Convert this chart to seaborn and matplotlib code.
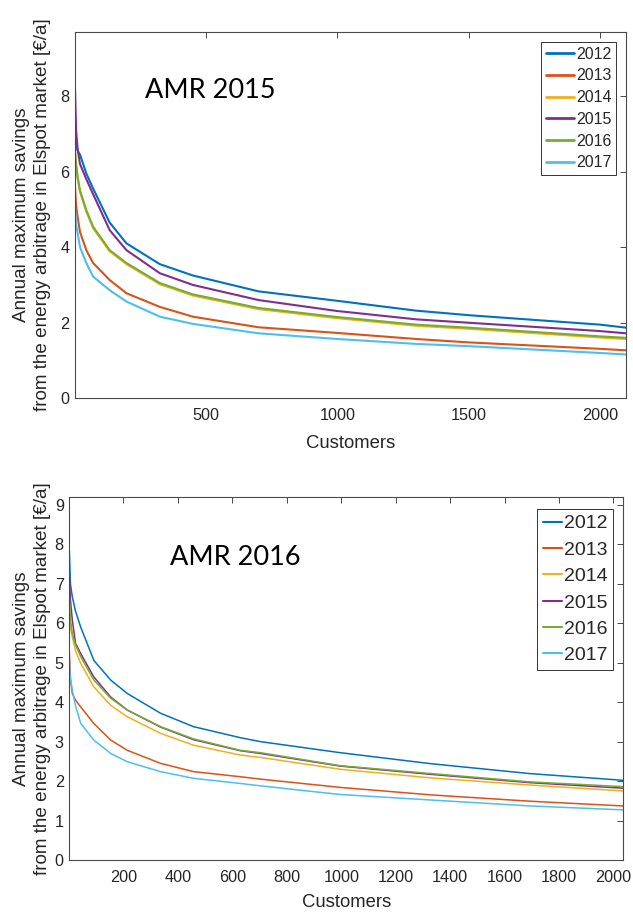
import matplotlib
matplotlib.use("Agg")
import matplotlib.pyplot as plt
import numpy as np
import pandas as pd
import seaborn as sns

# ---- AMR 2015 panel: savings per customer rank, one curve per price year ----
amr15_customers = [1, 5, 11, 20, 44, 70, 133, 197, 324, 450, 700, 1000, 1300, 1500, 2000, 2100]
amr15_2012 = [6.85, 6.70, 6.55, 6.45, 5.95, 5.55, 4.65, 4.10, 3.55, 3.25, 2.83, 2.58, 2.32, 2.20, 1.95, 1.87]
amr15_2013 = [5.60, 5.10, 4.80, 4.40, 3.92, 3.58, 3.13, 2.78, 2.42, 2.16, 1.88, 1.73, 1.57, 1.48, 1.31, 1.27]
amr15_2014 = [6.50, 6.15, 5.82, 5.46, 4.94, 4.50, 3.89, 3.55, 3.02, 2.72, 2.36, 2.12, 1.92, 1.84, 1.61, 1.57]
amr15_2015 = [8.20, 7.10, 6.60, 6.20, 5.80, 5.40, 4.45, 3.92, 3.31, 3.00, 2.60, 2.31, 2.09, 2.00, 1.78, 1.72]
amr15_2016 = [6.57, 6.20, 5.86, 5.50, 4.98, 4.54, 3.92, 3.58, 3.05, 2.75, 2.39, 2.15, 1.95, 1.87, 1.64, 1.60]
amr15_2017 = [5.03, 4.60, 4.37, 4.00, 3.58, 3.22, 2.86, 2.56, 2.16, 1.97, 1.72, 1.57, 1.44, 1.38, 1.20, 1.16]

# ---- AMR 2016 panel ----
amr16_customers = [1, 5, 12, 24, 43, 91, 153, 214, 336, 457, 629, 703, 996, 1330, 1693, 2035]
amr16_2012 = [7.85, 7.00, 6.67, 6.30, 5.90, 5.06, 4.56, 4.22, 3.72, 3.38, 3.10, 3.00, 2.72, 2.44, 2.19, 2.02]
amr16_2013 = [5.27, 4.60, 4.22, 4.05, 3.88, 3.46, 3.04, 2.78, 2.45, 2.24, 2.11, 2.05, 1.84, 1.65, 1.49, 1.37]
amr16_2014 = [6.29, 5.90, 5.65, 5.30, 4.98, 4.39, 3.92, 3.63, 3.21, 2.91, 2.66, 2.60, 2.30, 2.08, 1.90, 1.75]
amr16_2015 = [7.26, 6.60, 6.08, 5.49, 5.23, 4.64, 4.13, 3.80, 3.37, 3.05, 2.77, 2.70, 2.38, 2.17, 1.96, 1.82]
amr16_2016 = [6.67, 6.10, 5.74, 5.45, 5.15, 4.56, 4.10, 3.80, 3.38, 3.07, 2.78, 2.72, 2.39, 2.19, 1.98, 1.86]
amr16_2017 = [5.06, 4.60, 4.30, 3.90, 3.46, 3.04, 2.70, 2.49, 2.24, 2.07, 1.94, 1.88, 1.66, 1.52, 1.37, 1.27]

years = ["2012", "2013", "2014", "2015", "2016", "2017"]
year_colors = ["#0072BD", "#D95319", "#EDB120", "#7E2F8E", "#77AC30", "#4DBEEE"]
palette = dict(zip(years, year_colors))

x_ticks_15 = [500, 1000, 1500, 2000]
y_ticks_15 = [0, 2, 4, 6, 8]
x_ticks_16 = [200, 400, 600, 800, 1000, 1200, 1400, 1600, 1800, 2000]
y_ticks_16 = [0, 1, 2, 3, 4, 5, 6, 7, 8, 9]

ylabel = "Annual maximum savings\nfrom the energy arbitrage in Elspot market [€/a]"


def long_frame(customers, series):
    parts = []
    for year, values in zip(years, series):
        parts.append(pd.DataFrame({"Customers": customers, "Savings": values, "Year": year}))
    return pd.concat(parts, ignore_index=True)


df15 = long_frame(amr15_customers, [amr15_2012, amr15_2013, amr15_2014, amr15_2015, amr15_2016, amr15_2017])
df16 = long_frame(amr16_customers, [amr16_2012, amr16_2013, amr16_2014, amr16_2015, amr16_2016, amr16_2017])

sns.set_theme(style="white")
plt.rcParams["font.family"] = ["Liberation Sans", "DejaVu Sans"]

axis_grey = "#4a4a4a"
text_dark = "#262626"

fig = plt.figure(figsize=(6.33, 9.14), dpi=100)
ax1 = fig.add_axes([0.1185, 0.5642, 0.8705, 0.4011])
ax2 = fig.add_axes([0.1095, 0.0591, 0.8747, 0.3971])

panels = [
    (ax1, df15, "AMR 2015", (1, 2100), (0, 9.7), x_ticks_15, y_ticks_15, 1.5,
     dict(fontsize=11.5, lw=2.0, handlelength=1.75, labelspacing=0.42, anchor=(0.982, 0.972)),
     (0.127, 0.819), (-0.0786, -0.122)),
    (ax2, df16, "AMR 2016", (1, 2035), (0, 9.2), x_ticks_16, y_ticks_16, 1.1,
     dict(fontsize=14, lw=1.5, handlelength=0.95, labelspacing=0.45, anchor=(0.982, 0.967)),
     (0.182, 0.813), (-0.0679, -0.1176)),
]

for ax, df, title, xlim, ylim, xt, yt, lw, leg, title_pos, label_pos in panels:
    sns.lineplot(data=df, x="Customers", y="Savings", hue="Year", hue_order=years,
                 palette=palette, linewidth=lw, ax=ax, legend=True)
    ax.set_xlim(*xlim)
    ax.set_ylim(*ylim)
    ax.set_xticks(xt)
    ax.set_yticks(yt)
    ax.tick_params(direction="in", top=True, right=True, length=4.5, width=0.7,
                   color=axis_grey, labelcolor=text_dark, labelsize=11.7)
    ax.tick_params(axis="x", pad=7)
    ax.tick_params(axis="y", pad=4)
    for sp in ax.spines.values():
        sp.set_color(axis_grey)
        sp.set_linewidth(0.8)

    ax.set_xlabel("Customers", fontsize=13.3, color=text_dark, va="center")
    ax.xaxis.set_label_coords(0.5, label_pos[1])
    ax.set_ylabel(ylabel, fontsize=13.6, color=text_dark, linespacing=1.3,
                  multialignment="center", va="center")
    ax.yaxis.set_label_coords(label_pos[0], 0.5)

    ax.text(title_pos[0], title_pos[1], title, transform=ax.transAxes,
            family=["Lato", "DejaVu Sans"], fontsize=19.5, color="black",
            ha="left", va="baseline")

    sns.move_legend(ax, "upper right", bbox_to_anchor=leg["anchor"], borderaxespad=0,
                    title=None, frameon=True, fancybox=False, framealpha=1,
                    edgecolor="#333333", fontsize=leg["fontsize"],
                    handlelength=leg["handlelength"], handletextpad=0.1,
                    labelspacing=leg["labelspacing"], borderpad=0.3)
    lg = ax.get_legend()
    lg.get_frame().set_linewidth(0.7)
    for h in lg.get_lines():
        h.set_linewidth(leg["lw"])
    for t in lg.get_texts():
        t.set_color(text_dark)

fig.savefig("out.png", dpi=100)
